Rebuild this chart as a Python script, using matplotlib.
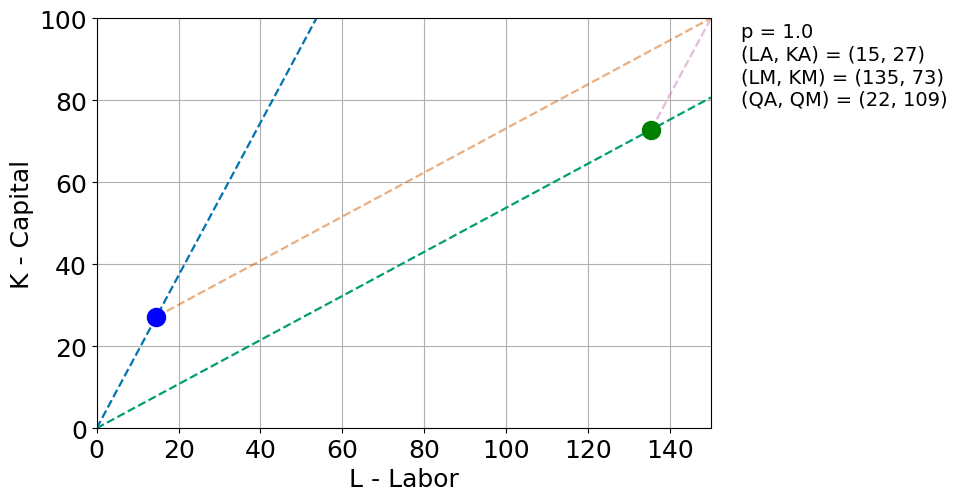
import matplotlib
matplotlib.use("Agg")
import matplotlib.pyplot as plt
import numpy as np

# endowment / box values
L_total, K_total = 150, 100
LA, KA = 14.6, 27.2
LM, KM = L_total - LA, K_total - KA
p = 1.0
QA, QM = 22, 109

c_blue = "#0173b2"
c_orange = "#d55e00"
c_green = "#029e73"
c_pink = "#cc78bc"

fig = plt.figure(figsize=(9.57, 5.02), dpi=100)
ax = fig.add_axes([0.101, 0.145, 0.642, 0.817])

xs = np.array([0, L_total])
ax.plot(xs, xs * KA / LA, "--", color=c_blue, lw=1.6)
ax.plot(xs, xs * KM / LM, "--", color=c_green, lw=1.6)
ax.plot([LA, L_total], [KA, K_total], "--", color=c_orange, lw=1.6, alpha=0.5)
ax.plot([LM, L_total], [KM, K_total], "--", color=c_pink, lw=1.6, alpha=0.5)

ax.plot(LA, KA, "o", color="blue", ms=13, zorder=5)
ax.plot(LM, KM, "o", color="green", ms=13, zorder=5)

ax.set_xlim(0, L_total)
ax.set_ylim(0, K_total)
ax.set_xlabel("L - Labor", fontsize=18)
ax.set_ylabel("K - Capital", fontsize=18)
ax.tick_params(labelsize=18)
ax.grid(True)

txt = (f"p = {p}\n(LA, KA) = ({LA:.0f}, {KA:.0f})\n"
       f"(LM, KM) = ({LM:.0f}, {KM:.0f})\n(QA, QM) = ({QA}, {QM})")
fig.text(0.774, 0.955, txt, fontsize=14, va="top", ha="left", linespacing=1.25)

fig.savefig("out.png", dpi=100)
